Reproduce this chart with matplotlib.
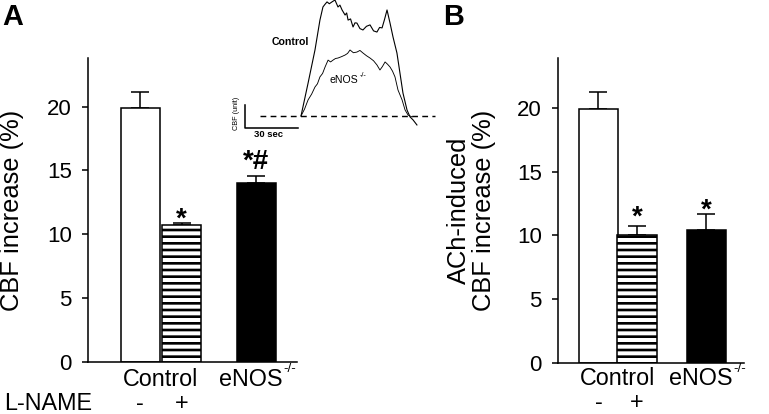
import matplotlib
matplotlib.use('Agg')
import matplotlib.pyplot as plt
import numpy as np

plt.rcParams['font.family'] = ['Liberation Sans', 'DejaVu Sans']
plt.rcParams['hatch.linewidth'] = 2.4

# bar data (mean, upper SEM)
groups = ['Control', 'Control + L-NAME', 'eNOS-/-']
a_mean = [19.9, 10.7, 14.05]
a_err = [1.27, 0.18, 0.55]
b_mean = [19.9, 10.0, 10.45]
b_err = [1.35, 0.73, 1.24]
a_marks = ['', '*', '*#']
b_marks = ['', '*', '*']
lname = ['-', '+']
yticks = [0, 5, 10, 15, 20]

# inset traces: time (s) and CBF (arbitrary units)
ctrl_t = [0, 4.0, 7.9, 10.7, 12.4, 13.5, 14.7, 16.0, 17.5, 18.3, 19.2, 20.9, 22.0, 23.2,
          24.9, 25.8, 26.6, 28.0, 29.4, 30.5, 31.6, 33.3, 35.0, 37.0, 39.0, 41.0, 42.9,
          44.4, 45.8, 47.2, 48.6, 50.3, 52.0, 54.2, 55.9, 57.6, 59.9, 61.6, 63.3, 65.5]
ctrl_y = [0, 1.43, 2.87, 4.17, 4.74, 4.85, 4.96, 4.88, 4.96, 5.0, 5.04, 4.74, 4.82, 4.61,
          4.39, 4.48, 4.17, 4.22, 3.87, 4.05, 4.04, 3.80, 3.74, 3.90, 3.96, 3.70, 3.65,
          3.85, 3.83, 4.2, 4.61, 4.04, 3.43, 2.74, 1.87, 1.00, 0.26, -0.04, -0.17, -0.39]
enos_t = [0, 2.0, 4.0, 6.0, 7.9, 9.3, 10.7, 12.2, 13.6, 15.3, 16.7, 18.1, 19.5, 20.9, 22.9,
          24.9, 26.3, 27.7, 29.6, 31.6, 33.3, 35.0, 37.0, 39.0, 41.0, 42.9, 44.6, 46.0,
          47.5, 48.9, 50.3, 51.7, 53.1, 54.8, 57.1, 58.8, 60.5, 62.7]
enos_y = [0, 0.30, 0.70, 0.95, 1.26, 1.40, 1.70, 1.85, 2.13, 2.43, 2.35, 2.43, 2.50, 2.52,
          2.58, 2.65, 2.72, 2.87, 2.75, 2.78, 2.85, 2.74, 2.62, 2.52, 2.40, 2.22, 2.00,
          2.15, 2.35, 2.25, 2.13, 1.95, 1.70, 1.13, 0.70, 0.26, 0.04, -0.04]

x = np.array([0, 1, 2.8])

fig = plt.figure(figsize=(769 / 80, 414 / 80), dpi=80)


def enos_label(ax, xy, coords, size, sup_size, dx):
    # "eNOS" with a small "-/-" superscript hanging off its top right corner
    t = ax.annotate('eNOS', xy, xycoords=coords, xytext=(dx, 0),
                    textcoords='offset points', ha='center', va='center', fontsize=size)
    ax.annotate('-/-', (1.0, 0.93), xycoords=t, xytext=(0.5, 0), textcoords='offset points',
                ha='left', va='center', fontsize=sup_size)


def bar_panel(ax, mean, err, marks, width, ymax, mark_dy):
    fills = ['white', 'white', 'black']
    hatches = [None, '--', None]
    for i in range(3):
        ax.bar(x[i], mean[i], width=width, color=fills[i], edgecolor='black',
               linewidth=1.4, hatch=hatches[i], zorder=2)
    ax.errorbar(x, mean, yerr=[np.zeros(3), err], fmt='none', ecolor='black',
                elinewidth=1.4, capsize=8.5, capthick=1.4, zorder=1)
    for i in range(3):
        if marks[i]:
            ax.annotate(marks[i], (x[i], mean[i] + err[i]), xytext=(0, mark_dy[i]),
                        textcoords='offset points', ha='center', va='baseline',
                        fontsize=25, fontweight='bold')
    ax.set_ylim(0, ymax)
    ax.set_yticks(yticks)
    ax.set_xticks([])
    for s in ['top', 'right']:
        ax.spines[s].set_visible(False)
    for s in ['left', 'bottom']:
        ax.spines[s].set_linewidth(1.4)
    ax.tick_params(axis='y', direction='out', length=5.5, width=1.4, pad=9, labelsize=20)


axA = fig.add_axes([88 / 769, 52 / 414, 209 / 769, 304 / 414])
bar_panel(axA, a_mean, a_err, a_marks, 0.94, 23.8, [-2, -3, 6])
axA.set_xlim(-1.253, 3.78)
axA.set_ylabel('CBF increase (%)', fontsize=23)
axA.yaxis.set_label_coords(-0.305, 0.5)

axB = fig.add_axes([558 / 769, 51 / 414, 186 / 769, 305 / 414])
bar_panel(axB, b_mean, b_err, b_marks, 1.02, 23.9, [0, 1.5, -3])
axB.set_xlim(-1.052, 3.78)
axB.set_ylabel('ACh-induced\nCBF increase (%)', fontsize=23, linespacing=1.05)
axB.yaxis.set_label_coords(-0.335, 0.5)

for ax, ylab, ysgn in [(axA, -0.056, -0.138), (axB, -0.052, -0.131)]:
    tr = ax.get_xaxis_transform()
    ax.text(0.5, ylab, 'Control', transform=tr, ha='center', va='center', fontsize=21)
    enos_label(ax, (x[2], ylab), tr, 21, 12, -5)
    for i in range(2):
        ax.text(x[i], ysgn, lname[i], transform=tr, ha='center', va='center', fontsize=21)
axA.text(-0.19, -0.138, 'L-NAME', transform=axA.transAxes, ha='center', va='center',
         fontsize=21)

fig.text(2 / 769, 1 - 25 / 414, 'A', fontsize=26, fontweight='bold', va='baseline')
fig.text(443 / 769, 1 - 25 / 414, 'B', fontsize=26, fontweight='bold', va='baseline')

# inset with CBF traces
ins = fig.add_axes([240 / 769, 284 / 414, 200 / 769, 130 / 414])
ins.set_xlim(-34.46, 78.53)
ins.set_ylim(-0.609, 5.043)
ins.axis('off')
ins.plot(ctrl_t, ctrl_y, color='black', lw=1.0, clip_on=False)
ins.plot(enos_t, enos_y, color='black', lw=0.8, clip_on=False)
ins.plot([-23.2, 75.7], [0, 0], color='black', lw=1.3, ls=(0, (4, 3)), clip_on=False)
ins.plot([-31.6, -31.6, -1.6], [0.48, -0.52, -0.52], color='black', lw=1.4, clip_on=False)
ins.text(-18.6, -0.8, '30 sec', ha='center', va='center', fontsize=8.5,
         fontweight='bold', clip_on=False)
ins.text(-36.2, 0.13, 'CBF (unit)', ha='center', va='center', fontsize=6.5,
         rotation=90, clip_on=False)
ins.text(-6.2, 3.22, 'Control', ha='center', va='center', fontsize=9.5, fontweight='semibold')
enos_label(ins, (24.5, 1.57), 'data', 9.5, 6.5, 0)

fig.savefig('out.png', dpi=80)
